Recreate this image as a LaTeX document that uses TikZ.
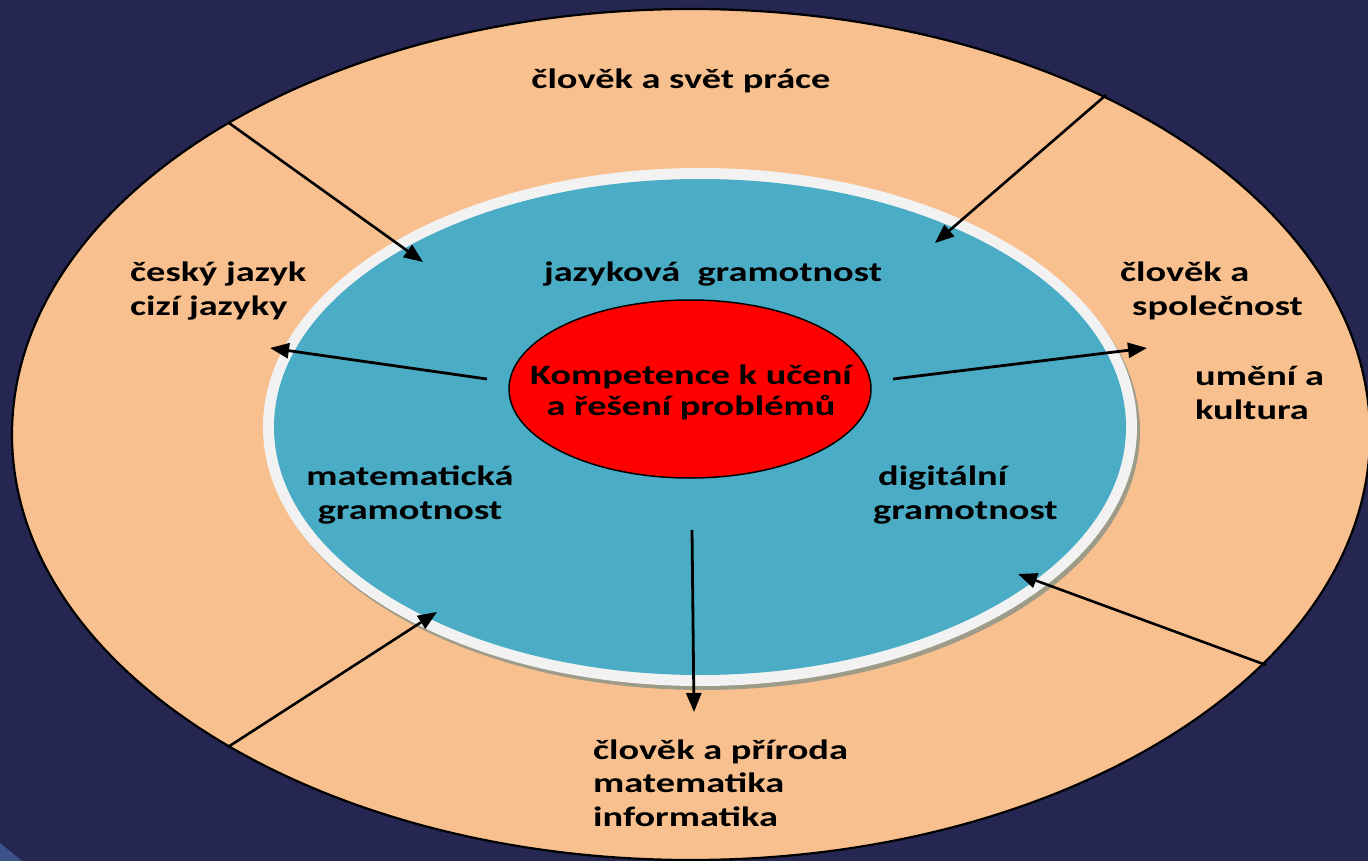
\documentclass[tikz,border=0pt]{standalone}
\usepackage{fontspec}
\setmainfont{Carlito}[FakeStretch=1.37]
\usetikzlibrary{arrows.meta,shapes.geometric}
\definecolor{bgnavy}{HTML}{262652}
\definecolor{peach}{HTML}{F9C08F}
\definecolor{teal}{HTML}{4BACC6}
\definecolor{ringwhite}{HTML}{F2F2F2}
\definecolor{shadowgrey}{HTML}{9E9B89}
\definecolor{cornerblue}{HTML}{3C5288}
\tikzset{
  lbl/.style={font=\bfseries\fontsize{28}{33.5}\selectfont, inner sep=0pt, text=black},
  redlbl/.style={font=\bfseries\fontsize{28}{31}\selectfont, inner sep=0pt, text=black, align=center},
  ell/.style={ellipse, inner sep=0pt, outer sep=0pt},
  arr/.style={line width=2.8pt, -{Triangle[length=19pt,width=15pt]}},
  divarr/.style={line width=2.6pt, -{Triangle[length=19pt,width=15pt]}}
}
\begin{document}
\begin{tikzpicture}[x=1pt,y=-1pt]
\useasboundingbox (0,0) rectangle (1368,861);
\fill[bgnavy] (0,0) rectangle (1368,861);
\fill[cornerblue] (0,843) -- (22,861) -- (0,861) -- cycle;
\clip (0,0) rectangle (1368,861);
% outer ring
\node[ell, draw=black, line width=2.2pt, fill=peach, minimum width=1358pt, minimum height=851pt] (outer) at (691,434.5) {};
% inner ellipse with shadow and white border
\node[ell, fill=shadowgrey, minimum width=874pt, minimum height=518pt] (shadow) at (703,431) {};
\node[ell, fill=ringwhite, minimum width=874pt, minimum height=518pt] (ring) at (700,427) {};
\node[ell, fill=teal, minimum width=852pt, minimum height=496pt] (blue) at (700,427) {};
% core
\node[ell, draw=black, line width=1.5pt, fill=red, minimum width=362pt, minimum height=178pt] (core) at (690,389) {};
\node[redlbl] (corelbl) at (691,392) {Kompetence k učení\\a řešení problémů};
% coordinates for connectors
\coordinate (o1) at (229,123);
\coordinate (t1) at (423,262);
\coordinate (o2) at (1106,95);
\coordinate (t2) at (935,243);
\coordinate (s3) at (487,379);
\coordinate (t3) at (270,348);
\coordinate (s4) at (893,379);
\coordinate (t4) at (1147,348);
\coordinate (s5) at (692,530);
\coordinate (t5) at (694,712);
\coordinate (o6) at (228,747);
\coordinate (t6) at (437,612);
\coordinate (o7) at (1266,665);
\coordinate (t7) at (1018,574);
\draw[divarr] (o1) -- (t1);
\draw[divarr] (o2) -- (t2);
\draw[arr] (s3) -- (t3);
\draw[arr] (s4) -- (t4);
\draw[arr] (s5) -- (t5);
\draw[divarr] (o6) -- (t6);
\draw[divarr] (o7) -- (t7);
% labels
\node[lbl] (work) at (681,81) {člověk a svět práce};
\node[lbl] (jaz) at (713,274) {jazyková\ \ gramotnost};
\node[lbl, align=left, anchor=west] (cj) at (130,291) {český jazyk\\cizí jazyky};
\node[lbl, align=left, anchor=west] (spol) at (1120,291) {člověk a\\\hspace*{12pt}společnost};
\node[lbl, align=left, anchor=west] (umeni) at (1195,393) {umění a\\kultura};
\node[lbl, align=center] (mat) at (410,495) {matematická\\gramotnost};
\node[lbl, align=left, anchor=west] (dig) at (873,495) {\hspace*{5pt}digitální\\gramotnost};
\node[lbl, align=left, anchor=west] (prir) at (593,783) {člověk a příroda\\matematika\\informatika};
\end{tikzpicture}
\end{document}
